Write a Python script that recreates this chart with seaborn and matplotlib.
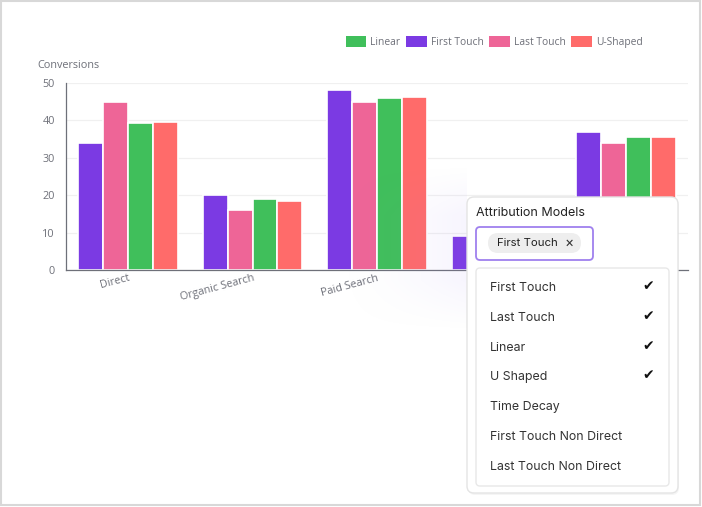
import numpy as np
import pandas as pd
import matplotlib.pyplot as plt
import seaborn as sns
from matplotlib.patches import FancyBboxPatch, Rectangle, Patch

# chart data
categories = ['Direct', 'Organic Search', 'Paid Search', 'Social', 'Email']
first_touch = [34, 20, 48, 9, 37]
last_touch = [45, 16, 45, 8, 34]
linear = [39.3, 19, 46, 8.5, 35.5]
u_shaped = [39.5, 18.5, 46.2, 8.5, 35.5]
models = ['First Touch', 'Last Touch', 'Linear', 'U-Shaped']
legend_order = ['Linear', 'First Touch', 'Last Touch', 'U-Shaped']
yticks = [0, 10, 20, 30, 40, 50]

# dropdown contents
menu_items = ['First Touch', 'Last Touch', 'Linear', 'U Shaped', 'Time Decay',
              'First Touch Non Direct', 'Last Touch Non Direct']
checked = [True, True, True, True, False, False, False]
selected_chip = 'First Touch'

colors = {'First Touch': '#7b3ae3', 'Last Touch': '#ee6597',
          'Linear': '#40bf5b', 'U-Shaped': '#ff6b6a'}

df = pd.DataFrame({
    'channel': categories * 4,
    'model': np.repeat(models, len(categories)),
    'conversions': first_touch + last_touch + linear + u_shaped,
})

sns.set_theme(style='white')
plt.rcParams['font.family'] = ['Open Sans', 'DejaVu Sans']

W, H = 702, 507
fig = plt.figure(figsize=(W / 100, H / 100), dpi=100)
ax = fig.add_axes([66 / W, (H - 270) / H, 622 / W, 187 / H])

sns.barplot(data=df, x='channel', y='conversions', hue='model', hue_order=models,
            palette=colors, saturation=1, width=0.8, edgecolor='white', linewidth=1.2,
            errorbar=None, legend=False, ax=ax)

ax.set_xlim(-0.5, len(categories) - 0.5)
ax.set_ylim(0, 50)
ax.set_yticks(yticks)
ax.yaxis.grid(True, color='#f0f0f0', lw=0.9)
ax.set_axisbelow(True)
ax.set_xlabel('')
ax.set_ylabel('')
for s in ['top', 'right']:
    ax.spines[s].set_visible(False)
for s in ['left', 'bottom']:
    ax.spines[s].set_color('#6e7079')
    ax.spines[s].set_linewidth(0.9)
ax.tick_params(axis='y', length=0, labelsize=7.8, labelcolor='#6e7079', pad=8)
ax.tick_params(axis='x', which='major', length=0, labelsize=7.8, labelcolor='#6e7079', pad=2)
ax.set_xticks(np.arange(len(categories) + 1) - 0.5, minor=True)
ax.tick_params(axis='x', which='minor', length=4, color='#6e7079', width=0.9)
for lab in ax.get_xticklabels():
    lab.set_rotation(15)
    lab.set_ha('right')
    lab.set_rotation_mode('anchor')

fig.text(37 / W, 1 - 65 / H, 'Conversions', fontsize=7.8, color='#6e7079', va='center')

handles = [Patch(facecolor=colors[m], edgecolor='none', label=m) for m in legend_order]
fig.legend(handles=handles, loc='center right', bbox_to_anchor=(652 / W, 1 - 42 / H),
           ncol=4, frameon=False, fontsize=7.4, labelcolor='#6e7079',
           handlelength=2.0, handleheight=1.2, handletextpad=0.4, columnspacing=0.55)

# overlay in pixel coordinates
oax = fig.add_axes([0, 0, 1, 1], zorder=10)
oax.axis('off')
oax.patch.set_alpha(0)

# soft lavender glow to the left of the panel
px, py, pw, ph = 467, 197, 211, 296
gx, gy = np.meshgrid(np.arange(W), np.arange(H))
hfade = np.clip((gx - 330) / (px - 330), 0, 1) ** 1.5
vfade = np.clip((gy - 165) / 50.0, 0, 1) * np.clip((330 - gy) / 50.0, 0, 1)
alpha = 0.08 * hfade * vfade * (gx < px)
glow = np.zeros((H, W, 4))
glow[..., 0], glow[..., 1], glow[..., 2] = 0.62, 0.52, 0.95
glow[..., 3] = alpha
oax.imshow(glow, extent=(0, W, H, 0), zorder=1, interpolation='bilinear')
oax.set_xlim(0, W)
oax.set_ylim(H, 0)

ui_font = ['Inter', 'DejaVu Sans']
oax.add_patch(FancyBboxPatch((px + 1, py + 2), pw, ph, boxstyle='round,pad=0,rounding_size=7',
                             fc='#000000', ec='none', alpha=0.04, zorder=2))
oax.add_patch(FancyBboxPatch((px, py), pw, ph, boxstyle='round,pad=0,rounding_size=7',
                             fc='white', ec='#e4e4e4', lw=1, zorder=2))
oax.text(476, 213, 'Attribution Models', fontsize=9, color='#222222', va='center',
         family=ui_font, zorder=3)
oax.add_patch(FancyBboxPatch((476, 227), 117, 33, boxstyle='round,pad=0,rounding_size=4',
                             fc='white', ec='#9f80ee', lw=1.3, zorder=3))
oax.add_patch(FancyBboxPatch((488, 233), 93, 20, boxstyle='round,pad=0,rounding_size=10',
                             fc='#eeeeee', ec='none', zorder=4))
oax.text(497, 243.5, selected_chip, fontsize=8.2, color='#222222', va='center',
         family=ui_font, zorder=5)
oax.text(569, 243, '×', fontsize=10, color='#333333', va='center', ha='center',
         family=ui_font, zorder=5)
oax.add_patch(FancyBboxPatch((476, 268), 193, 218, boxstyle='round,pad=0,rounding_size=4',
                             fc='white', ec='#e8e8e8', lw=1, zorder=3))
for i, (item, chk) in enumerate(zip(menu_items, checked)):
    y = 288 + 29.8 * i
    oax.text(490, y, item, fontsize=8.9, color='#333333', va='center',
             family=ui_font, zorder=5)
    if chk:
        oax.text(648, y - 2, '✔', fontsize=10, color='#111111', va='center', ha='center',
                 family=['DejaVu Sans'], zorder=5)

oax.add_patch(Rectangle((0.75, 0.75), W - 2.5, H - 2.5, fill=False, ec='#d8d8d8', lw=1.5, zorder=6))

fig.savefig('out.png', dpi=100)
